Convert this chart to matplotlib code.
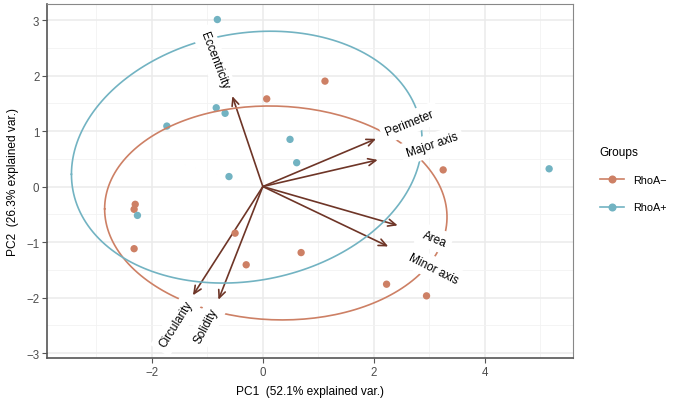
import numpy as np
import matplotlib
matplotlib.use("Agg")
import matplotlib.pyplot as plt
from matplotlib.lines import Line2D

plt.rcParams['font.family'] = ['Liberation Sans', 'DejaVu Sans']

# Scores, group RhoA-
neg_pc1 = [1.12, 0.07, 3.25, -2.30, -2.32, -2.32, -0.50, -0.30, 0.69, 2.23, 2.95]
neg_pc2 = [1.90, 1.58, 0.30, -0.32, -0.41, -1.12, -0.84, -1.41, -1.19, -1.76, -1.97]

# Scores, group RhoA+
pos_pc1 = [-0.82, -0.84, -0.68, -1.73, 0.49, 0.61, -0.61, 5.16, -2.26]
pos_pc2 = [3.01, 1.42, 1.32, 1.09, 0.85, 0.43, 0.18, 0.32, -0.52]

groups = ['RhoA\u2212', 'RhoA+']
colors = ['#CD8065', '#72B3C2']

# Ellipse (68% normal) centre and covariance per group
ell_mu_x = [0.234, -0.29]
ell_mu_y = [-0.476, 0.53]
ell_var_x = [4.177, 4.38]
ell_var_y = [1.631, 2.26]
ell_cov = [-0.099, 0.428]

# Variable loadings (arrow tips)
var_names = ['Eccentricity', 'Perimeter', 'Major axis', 'Area', 'Minor axis', 'Circularity', 'Solidity']
var_x = [-0.55, 2.04, 2.07, 2.43, 2.26, -1.26, -0.80]
var_y = [1.63, 0.86, 0.48, -0.70, -1.08, -1.96, -2.04]

# Label centres and angles
lab_x = [-0.88, 2.65, 3.05, 3.09, 3.07, -1.56, -1.02]
lab_y = [2.28, 1.15, 0.75, -0.94, -1.47, -2.48, -2.50]
lab_angle = [-69, 22, 19, -22, -27, 58, 62]

fig = plt.figure(figsize=(6.77, 4.02), dpi=100)
ax = fig.add_axes([47 / 677, 1 - 359 / 402, (573 - 47) / 677, (359 - 5) / 402])

ax.set_xlim(-3.89, 5.59)
ax.set_ylim(-3.09, 3.29)

# grid
ax.set_xticks([-2, 0, 2, 4])
ax.set_yticks([-3, -2, -1, 0, 1, 2, 3])
ax.set_xticks([-3, -1, 1, 3, 5], minor=True)
ax.set_yticks([-2.5, -1.5, -0.5, 0.5, 1.5, 2.5], minor=True)
ax.grid(True, which='major', color='#EBEBEB', lw=1.1, zorder=0)
ax.grid(True, which='minor', color='#F2F2F2', lw=0.6, zorder=0)
ax.set_axisbelow(True)
ax.tick_params(which='minor', length=0)
ax.tick_params(which='major', length=3.5, width=0.8, color='#555555',
               labelsize=8.3, labelcolor='#4D4D4D', pad=2)

for side in ['top', 'right']:
    ax.spines[side].set_color('#888888')
    ax.spines[side].set_linewidth(0.8)
for side in ['left', 'bottom']:
    ax.spines[side].set_color('#555555')
    ax.spines[side].set_linewidth(1.2)

# arrows
for i in range(len(var_names)):
    ax.annotate('', xy=(var_x[i], var_y[i]), xytext=(0, 0),
                arrowprops=dict(arrowstyle='->,head_length=0.55,head_width=0.25',
                                color='#6E3527', lw=1.2, shrinkA=0, shrinkB=0),
                zorder=2)

# points
ax.scatter(neg_pc1, neg_pc2, s=28, color=colors[0], edgecolors='none', zorder=3)
ax.scatter(pos_pc1, pos_pc2, s=28, color=colors[1], edgecolors='none', zorder=3)

# ellipses
ed = np.sqrt(-2 * np.log(1 - 0.68))
theta = np.linspace(-np.pi, np.pi, 200)
circle = np.column_stack([np.cos(theta), np.sin(theta)])
for i in range(len(groups)):
    sigma = np.array([[ell_var_x[i], ell_cov[i]], [ell_cov[i], ell_var_y[i]]])
    R = np.linalg.cholesky(sigma).T
    ell = circle @ R * ed + np.array([ell_mu_x[i], ell_mu_y[i]])
    ax.plot(ell[:, 0], ell[:, 1], color=colors[i], lw=1.2, zorder=4)

# variable labels
for i in range(len(var_names)):
    ax.text(lab_x[i], lab_y[i], var_names[i], rotation=lab_angle[i],
            rotation_mode='anchor', ha='center', va='center', fontsize=8.5,
            color='black', zorder=5,
            bbox=dict(boxstyle='square,pad=0.45', fc='white', ec='none'))

ax.set_xlabel('PC1  (52.1% explained var.)', fontsize=8.6, labelpad=5)
ax.set_ylabel('PC2  (26.3% explained var.)', fontsize=8.6, labelpad=5)

handles = [Line2D([0], [0], color=colors[i], lw=1.2, marker='o', markersize=5.8,
                  markeredgewidth=0) for i in range(len(groups))]
leg = ax.legend(handles, groups, title='Groups', loc='center left',
                bbox_to_anchor=(590 / 677, 1 - 180 / 402),
                bbox_transform=fig.transFigure, frameon=False,
                fontsize=7.8, title_fontsize=8.6, handlelength=2.2,
                labelspacing=1.6, handletextpad=0.9)
leg._legend_box.align = 'left'

fig.savefig('out.png', dpi=100)
